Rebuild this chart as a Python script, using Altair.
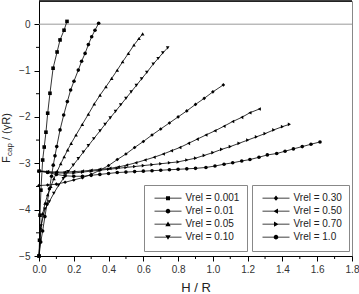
import altair as alt
import pandas as pd

FONT = "Liberation Sans"

labels = ["Vrel = 0.001", "Vrel = 0.01", "Vrel = 0.05", "Vrel = 0.10",
          "Vrel = 0.30", "Vrel = 0.50", "Vrel = 0.70", "Vrel = 1.0"]

H1 = [0.000, 0.003, 0.006, 0.011, 0.021, 0.030, 0.040, 0.050, 0.063, 0.081, 0.104, 0.121, 0.144, 0.161]
F1 = [-5.00, -4.66, -4.12, -3.58, -2.93, -2.65, -2.33, -1.92, -1.49, -0.95, -0.60, -0.34, -0.13, 0.06]

H2 = [0.000, 0.010, 0.021, 0.034, 0.046, 0.060, 0.072, 0.082, 0.092, 0.102, 0.121, 0.142, 0.163,
      0.182, 0.201, 0.226, 0.245, 0.265, 0.284, 0.303, 0.322, 0.343]
F2 = [-5.00, -4.70, -4.46, -4.15, -3.88, -3.55, -3.28, -3.04, -2.84, -2.64, -2.28, -1.96, -1.67,
      -1.42, -1.23, -0.99, -0.80, -0.63, -0.44, -0.27, -0.13, 0.02]

H3 = [0.000, 0.010, 0.022, 0.035, 0.050, 0.068, 0.086, 0.105, 0.125, 0.145, 0.165, 0.185, 0.213,
      0.249, 0.284, 0.318, 0.351, 0.385, 0.418, 0.450, 0.481, 0.514, 0.546, 0.575, 0.596]
F3 = [-5.00, -4.40, -4.08, -3.86, -3.68, -3.50, -3.33, -3.17, -3.01, -2.86, -2.71, -2.57, -2.39,
      -2.16, -1.94, -1.72, -1.53, -1.35, -1.17, -0.99, -0.81, -0.63, -0.45, -0.31, -0.21]

H4 = [0.000, 0.012, 0.034, 0.059, 0.085, 0.112, 0.140, 0.168, 0.197, 0.226, 0.255, 0.284, 0.315,
      0.351, 0.380, 0.410, 0.440, 0.470, 0.500, 0.530, 0.560, 0.590, 0.620, 0.657, 0.685, 0.712, 0.740]
F4 = [-5.00, -4.35, -3.99, -3.83, -3.65, -3.48, -3.33, -3.18, -3.04, -2.90, -2.76, -2.62, -2.47,
      -2.30, -2.16, -2.02, -1.88, -1.74, -1.60, -1.46, -1.32, -1.18, -1.04, -0.86, -0.74, -0.62, -0.51]

H5 = [0.00, 0.05, 0.10, 0.15, 0.20, 0.25, 0.30, 0.35, 0.40, 0.45, 0.50, 0.55, 0.60, 0.65, 0.70,
      0.75, 0.80, 0.85, 0.90, 0.95, 1.00, 1.06]
F5 = [-3.48, -3.47, -3.45, -3.41, -3.36, -3.31, -3.24, -3.15, -3.05, -2.92, -2.80, -2.66, -2.53,
      -2.39, -2.26, -2.13, -2.00, -1.87, -1.73, -1.60, -1.46, -1.31]

H6 = [0.00, 0.05, 0.10, 0.15, 0.20, 0.25, 0.30, 0.35, 0.408, 0.456, 0.504, 0.557, 0.610, 0.662,
      0.715, 0.762, 0.810, 0.860, 0.910, 0.960, 1.012, 1.064, 1.114, 1.166, 1.213, 1.267]
F6 = [-3.16, -3.18, -3.19, -3.19, -3.18, -3.17, -3.15, -3.13, -3.11, -3.08, -3.04, -2.99, -2.93,
      -2.87, -2.80, -2.73, -2.66, -2.57, -2.48, -2.39, -2.30, -2.20, -2.10, -2.01, -1.91, -1.83]

H7 = [0.00, 0.05, 0.10, 0.15, 0.20, 0.25, 0.30, 0.35, 0.40, 0.45, 0.50, 0.55, 0.60, 0.65, 0.70,
      0.75, 0.80, 0.85, 0.90, 0.95, 1.00, 1.05, 1.10, 1.15, 1.20, 1.25, 1.30, 1.35, 1.40, 1.44]
F7 = [-3.17, -3.19, -3.21, -3.21, -3.21, -3.19, -3.17, -3.15, -3.13, -3.11, -3.09, -3.07, -3.05,
      -3.03, -3.01, -2.99, -2.97, -2.93, -2.89, -2.83, -2.77, -2.70, -2.64, -2.57, -2.50, -2.43,
      -2.36, -2.28, -2.21, -2.16]

H8 = [0.00, 0.05, 0.10, 0.15, 0.20, 0.25, 0.30, 0.35, 0.40, 0.45, 0.50, 0.55, 0.60, 0.65, 0.70,
      0.75, 0.80, 0.85, 0.90, 0.96, 1.012, 1.064, 1.114, 1.166, 1.213, 1.265, 1.313, 1.367, 1.415,
      1.463, 1.514, 1.564, 1.616]
F8 = [-3.17, -3.20, -3.24, -3.27, -3.28, -3.28, -3.26, -3.24, -3.22, -3.20, -3.19, -3.18, -3.17,
      -3.16, -3.15, -3.14, -3.13, -3.12, -3.11, -3.09, -3.06, -3.02, -2.99, -2.95, -2.92, -2.87,
      -2.82, -2.79, -2.74, -2.69, -2.64, -2.59, -2.54]

x_ticks = [0.0, 0.2, 0.4, 0.6, 0.8, 1.0, 1.2, 1.4, 1.6, 1.8]
x_minor = [0.1, 0.3, 0.5, 0.7, 0.9, 1.1, 1.3, 1.5, 1.7]
y_ticks = [-5, -4, -3, -2, -1, 0]
y_minor = [-4.5, -3.5, -2.5, -1.5, -0.5]
zero_level = [0.0]
y_title_parts = ["F", "cap", "/ (\u03b3R)"]

marker_shapes = ["square", "circle", "triangle-up", "triangle-down",
                 "diamond", "triangle-left", "triangle-right", "circle"]

# legend glyphs: a thin filled bar (the line) plus the marker, same winding so both fill
BAR = "M-1,-0.035H1V0.035H-1Z"
legend_paths = [
    BAR + "M-0.15,-0.15H0.15V0.15H-0.15Z",
    BAR + "M0.17,0A0.17,0.17,0,1,1,-0.17,0A0.17,0.17,0,1,1,0.17,0Z",
    BAR + "M0,-0.2L0.2,0.15L-0.2,0.15Z",
    BAR + "M0,0.2L-0.2,-0.15L0.2,-0.15Z",
    BAR + "M0,-0.2L0.17,0L0,0.2L-0.17,0Z",
    BAR + "M-0.2,0L0.15,-0.2L0.15,0.2Z",
    BAR + "M0.2,0L-0.15,0.2L-0.15,-0.2Z",
    BAR + "M0.17,0A0.17,0.17,0,1,1,-0.17,0A0.17,0.17,0,1,1,0.17,0Z",
]

Hs = [H1, H2, H3, H4, H5, H6, H7, H8]
Fs = [F1, F2, F3, F4, F5, F6, F7, F8]
rows = []
for lab, hh, ff in zip(labels, Hs, Fs):
    for h, f in zip(hh, ff):
        rows.append({"H": h, "F": f, "series": lab})
df = pd.DataFrame(rows)

W, HT = 313, 255
xs = alt.Scale(domain=[0, 1.8], nice=False, zero=False)
ys = alt.Scale(domain=[-5, 0.5], nice=False, zero=False)

x_axis = alt.Axis(values=x_ticks, format=".1f", tickSize=5, tickColor="black",
                  domainColor="black", labelFont=FONT, labelFontSize=10, labelColor="#333",
                  labelPadding=3, labelFlush=False, labelOverlap=False, grid=False,
                  title="H / R", titleFont=FONT, titleFontSize=13, titleFontWeight="normal",
                  titleColor="#222", titlePadding=7)
y_axis = alt.Axis(values=y_ticks, format="d", tickSize=5, tickColor="black",
                  domainColor="black", labelFont=FONT, labelFontSize=10, labelColor="#333",
                  labelPadding=4, labelFlush=False, labelOverlap=False, grid=False, title=None)

base = alt.Chart(df)

lines = base.mark_line(color="black", strokeWidth=0.8).encode(
    x=alt.X("H:Q", scale=xs, axis=x_axis),
    y=alt.Y("F:Q", scale=ys, axis=y_axis),
    detail="series:N",
    order="H:Q",
)

points = base.mark_point(filled=True, color="black", size=13, opacity=1).encode(
    x=alt.X("H:Q", scale=xs, axis=x_axis),
    y=alt.Y("F:Q", scale=ys, axis=y_axis),
    shape=alt.Shape("series:N", scale=alt.Scale(domain=labels, range=marker_shapes), legend=None),
)


def legend_layer(dom, paths, lx):
    return alt.Chart(df).transform_filter("false").mark_point(
        filled=True, color="black", opacity=1
    ).encode(
        x=alt.X("H:Q", scale=xs, axis=x_axis),
        y=alt.Y("F:Q", scale=ys, axis=y_axis),
        shape=alt.Shape("series:N", scale=alt.Scale(domain=dom, range=paths),
                        legend=alt.Legend(title=None, orient="none", legendX=lx, legendY=184,
                                          direction="vertical", padding=7,
                                          strokeColor="#888", fillColor="white",
                                          symbolSize=729, clipHeight=12.3, symbolOffset=3.5,
                                          labelOffset=4, symbolStrokeWidth=0,
                                          symbolFillColor="black",
                                          symbolOpacity=1, labelFont=FONT, labelFontSize=10,
                                          labelColor="#222", rowPadding=0, labelLimit=200)),
    )


leg_a = legend_layer(labels[:4], legend_paths[:4], 105)
leg_b = legend_layer(labels[4:], legend_paths[4:], 213)

zero = alt.Chart(pd.DataFrame({"F": zero_level})).mark_rule(color="#999", strokeWidth=1).encode(
    y=alt.Y("F:Q", scale=ys, axis=y_axis))

top = alt.Chart(pd.DataFrame({"F": zero_level})).mark_rule(color="black", strokeWidth=1.5).encode(
    x=alt.value(0), x2=alt.value(W), y=alt.value(0))

xminor = alt.Chart(pd.DataFrame({"H": x_minor})).mark_rule(color="black", strokeWidth=1).encode(
    x=alt.X("H:Q", scale=xs, axis=x_axis), y=alt.value(HT), y2=alt.value(HT + 3))
yminor = alt.Chart(pd.DataFrame({"F": y_minor})).mark_rule(color="black", strokeWidth=1).encode(
    y=alt.Y("F:Q", scale=ys, axis=y_axis), x=alt.value(0), x2=alt.value(-3))

t_f = alt.Chart(pd.DataFrame({"t": [y_title_parts[0]]})).mark_text(
    angle=270, align="left", baseline="middle", fontSize=11, font=FONT, color="#222").encode(
    text="t:N", x=alt.value(-32), y=alt.value(162))
t_sub = alt.Chart(pd.DataFrame({"t": [y_title_parts[1]]})).mark_text(
    angle=270, align="left", baseline="middle", fontSize=8, font=FONT, color="#222").encode(
    text="t:N", x=alt.value(-29), y=alt.value(155))
t_rest = alt.Chart(pd.DataFrame({"t": [y_title_parts[2]]})).mark_text(
    angle=270, align="left", baseline="middle", fontSize=11, font=FONT, color="#222").encode(
    text="t:N", x=alt.value(-32), y=alt.value(139))

chart = alt.layer(zero, top, lines, points, leg_a, leg_b, xminor, yminor, t_f, t_sub, t_rest).resolve_scale(
    shape="independent"
).properties(
    width=W, height=HT,
    autosize=alt.AutoSizeParams(type="none"),
    padding={"left": 39, "top": 1, "right": 7, "bottom": 38},
    background="white",
).configure_view(stroke="#888", strokeWidth=1).configure_axis(labelOverlap=False)

chart.save("out.html", embed_options={"renderer": "svg", "actions": False})
